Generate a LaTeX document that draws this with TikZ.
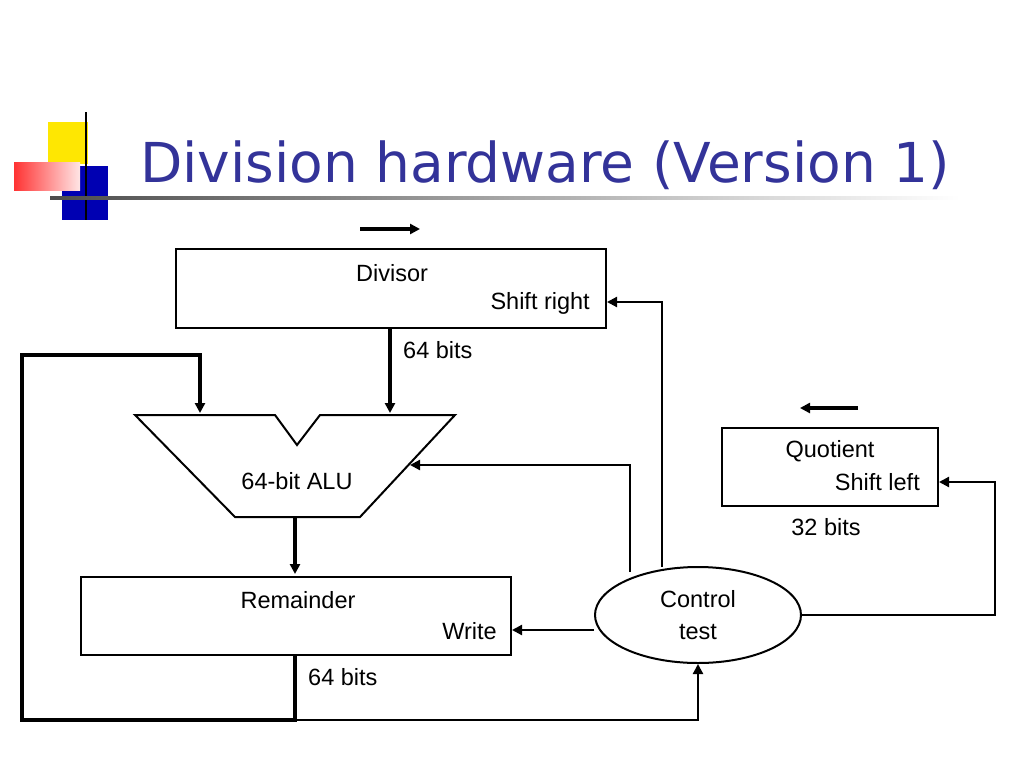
\documentclass[tikz,border=0pt]{standalone}
\usepackage{fontspec}
\setmainfont{Liberation Sans}
\newfontfamily\titlefont{DejaVu Sans}
\usetikzlibrary{arrows.meta,shapes.geometric}
\definecolor{ttl}{RGB}{51,51,153}
\tikzset{
 px/.style={x=1pt,y=-1pt},
 box/.style={draw,line width=2pt},
 thk/.style={line width=3.5pt},
 thn/.style={line width=2.2pt},
 arr/.style={-{Triangle[length=10pt,width=10pt]}},
 lbl/.style={font=\fontsize{23.5}{26}\selectfont,inner sep=0pt},
}
\begin{document}
\begin{tikzpicture}[px]
\useasboundingbox (0,0) rectangle (1024,768);
% logo
\fill[yellow!90!orange] (48,122) rectangle (88,164);
\fill[blue!70!black] (62,166) rectangle (108,220);
\shade[left color=red!80,right color=red!10] (14,162) rectangle (80,190);
\draw[line width=1.5pt] (86,112) -- (86,220);
\shade[left color=black!70,right color=white] (50,196) rectangle (960,199);
\node[anchor=base west,text=ttl,inner sep=0pt,font=\titlefont\fontsize{55}{60}\selectfont] (title) at (140,182) {Division hardware (Version 1)};
% divisor
\node[box,minimum width=430pt,minimum height=79pt,anchor=north west] (div) at (175,248) {};
\node[lbl] (dl) at (392,273) {Divisor};
\node[lbl,anchor=east] (ds) at (590,303) {Shift right};
\coordinate (da1) at (360,229); \coordinate (da2) at (420,229);
\draw[thk,arr] (da1) -- (da2);
% ALU
\draw[box] (135,415) -- (275,415) -- (297,445) -- (320,415) -- (455,415) -- (360,517) -- (235,517) -- cycle;
\node[lbl] (alu) at (297,481) {64-bit ALU};
\coordinate (alutop) at (390,413);
\draw[thk,arr] (div.south -| alutop) -- (alutop);
\node[lbl,anchor=west] (b1) at (403,350) {64 bits};
% remainder
\node[box,minimum width=430pt,minimum height=78pt,anchor=north west] (rem) at (80,576) {};
\node[lbl] (rl) at (298,600) {Remainder};
\node[lbl,anchor=east] (rw) at (497,631) {Write};
\coordinate (alubot) at (295,517);
\draw[thk,arr] (alubot) -- (295,574);
\node[lbl,anchor=west] (b2) at (308,677) {64 bits};
% loop
\draw[thk,arr] (295,655) -- (295,720) -- (22,720) -- (22,355) -- (200,355) -- (200,413);
% control
\node[ellipse,draw,line width=2pt,minimum width=206pt,minimum height=96pt,align=center,lbl] (ctl) at (698,615) {Control\\[6pt]test};
\draw[thn,arr] (ctl.west |- 0,630) -- (512,630);
\draw[thn,arr] (630,572) -- (630,465) -- (410,465);
\draw[thn,arr] (662,567) -- (662,302) -- (607,302);
\draw[thn,arr] (295,720) -- (698,720) -- (ctl.south);
% quotient
\node[box,minimum width=216pt,minimum height=78pt,anchor=north west] (quo) at (721,427) {};
\node[lbl] (ql) at (830,451) {Quotient};
\node[lbl,anchor=east] (qs) at (920,482) {Shift left};
\node[lbl] (b3) at (826,527) {32 bits};
\draw[thn,arr] (ctl.east) -- (995,615) -- (995,482) -- (quo.east |- 0,482);
\coordinate (qa1) at (858,408); \coordinate (qa2) at (800,408);
\draw[thk,arr] (qa1) -- (qa2);
\end{tikzpicture}
\end{document}
